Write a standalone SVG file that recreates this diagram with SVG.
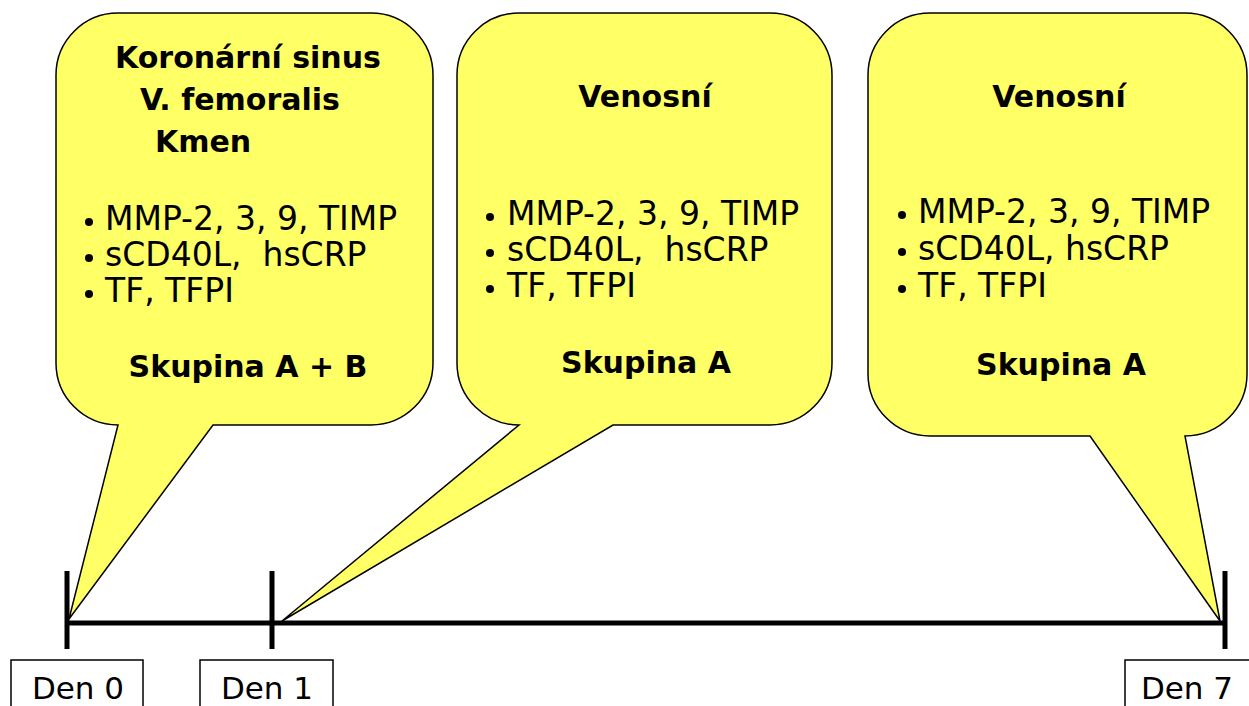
<svg xmlns="http://www.w3.org/2000/svg" width="1249" height="706" viewBox="0 0 1249 706">
  <style>
    .callout { fill: #FFFF66; stroke: #000; stroke-width: 1.5; stroke-linejoin: miter; }
    .title { font-family: "Comic Sans MS", "DejaVu Sans", sans-serif; font-weight: bold; font-size: 30px; fill: #000; }
    .item { font-family: "Comic Sans MS", "DejaVu Sans", sans-serif; font-size: 33px; fill: #000; white-space: pre; }
    .day { font-family: "Comic Sans MS", "DejaVu Sans", sans-serif; font-size: 31px; fill: #000; }
    .daybox { fill: #fff; stroke: #000; stroke-width: 1.5; }
    .axis { stroke: #000; stroke-width: 5; fill: none; }
    .dot { fill: #000; }
  </style>
  <rect width="1249" height="706" fill="#fff"/>

  <g id="connectors">
    <line class="axis" x1="67" y1="623" x2="1225" y2="623"/>
    <line class="axis" x1="67" y1="571" x2="67" y2="649"/>
    <line class="axis" x1="272" y1="571" x2="272" y2="649"/>
    <line class="axis" x1="1225" y1="571" x2="1225" y2="649"/>
  </g>

  <g id="callout-den0">
    <path class="callout" d="M118,13 H371 A62,62 0 0 1 433,75 V363 A62,62 0 0 1 371,425 H213 L69,619 L118,425 A62,62 0 0 1 56,363 V75 A62,62 0 0 1 118,13 Z"/>
    <text class="title" x="115" y="68">Koronární sinus</text>
    <text class="title" x="140" y="110">V. femoralis</text>
    <text class="title" x="155" y="152">Kmen</text>
    <circle class="dot" cx="89" cy="222" r="4"/>
    <circle class="dot" cx="89" cy="258" r="4"/>
    <circle class="dot" cx="89" cy="294" r="4"/>
    <text class="item" x="105" y="230">MMP-2, 3, 9, TIMP</text>
    <text class="item" x="105" y="266" xml:space="preserve">sCD40L,  hsCRP</text>
    <text class="item" x="105" y="302">TF, TFPI</text>
    <text class="title" x="248" y="377" text-anchor="middle">Skupina A + B</text>
  </g>

  <g id="callout-den1">
    <path class="callout" d="M519,13 H770 A62,62 0 0 1 832,75 V363 A62,62 0 0 1 770,425 H613 L282,621 L519,425 A62,62 0 0 1 457,363 V75 A62,62 0 0 1 519,13 Z"/>
    <text class="title" x="645" y="107" text-anchor="middle">Venosní</text>
    <circle class="dot" cx="490" cy="217" r="4"/>
    <circle class="dot" cx="490" cy="253" r="4"/>
    <circle class="dot" cx="490" cy="289" r="4"/>
    <text class="item" x="507" y="225">MMP-2, 3, 9, TIMP</text>
    <text class="item" x="507" y="261" xml:space="preserve">sCD40L,  hsCRP</text>
    <text class="item" x="507" y="297">TF, TFPI</text>
    <text class="title" x="646" y="373" text-anchor="middle">Skupina A</text>
  </g>

  <g id="callout-den7">
    <path class="callout" d="M930,13 H1185 A62,62 0 0 1 1247,75 V374 A62,62 0 0 1 1185,436 L1220,621 L1090,436 H930 A62,62 0 0 1 868,374 V75 A62,62 0 0 1 930,13 Z"/>
    <text class="title" x="1059" y="107" text-anchor="middle">Venosní</text>
    <circle class="dot" cx="902" cy="215" r="4"/>
    <circle class="dot" cx="902" cy="252" r="4"/>
    <circle class="dot" cx="902" cy="289" r="4"/>
    <text class="item" x="918" y="223">MMP-2, 3, 9, TIMP</text>
    <text class="item" x="918" y="260">sCD40L, hsCRP</text>
    <text class="item" x="918" y="297">TF, TFPI</text>
    <text class="title" x="1061" y="375" text-anchor="middle">Skupina A</text>
  </g>

  <g id="label-den0">
    <rect class="daybox" x="11" y="660" width="132" height="60"/>
    <text class="day" x="78" y="699" text-anchor="middle">Den 0</text>
  </g>
  <g id="label-den1">
    <rect class="daybox" x="200" y="660" width="133" height="60"/>
    <text class="day" x="267" y="699" text-anchor="middle">Den 1</text>
  </g>
  <g id="label-den7">
    <rect class="daybox" x="1125" y="660" width="140" height="60"/>
    <text class="day" x="1187" y="699" text-anchor="middle">Den 7</text>
  </g>
</svg>
